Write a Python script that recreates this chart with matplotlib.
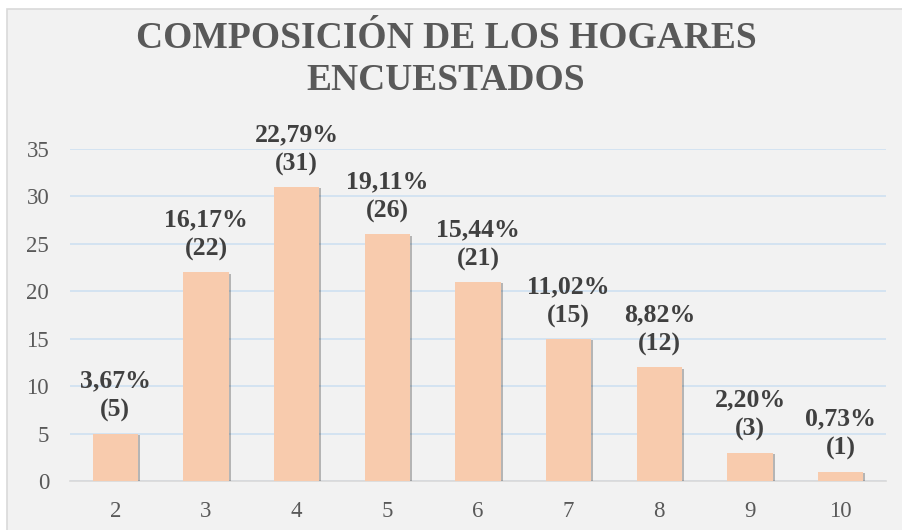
import matplotlib.pyplot as plt
import matplotlib.patheffects as pe
from matplotlib.patches import Rectangle
import numpy as np

# household size vs number of households
categories = ['2', '3', '4', '5', '6', '7', '8', '9', '10']
counts = [5, 22, 31, 26, 21, 15, 12, 3, 1]
percents = ['3,67%', '16,17%', '22,79%', '19,11%', '15,44%', '11,02%', '8,82%', '2,20%', '0,73%']
yticks = [0, 5, 10, 15, 20, 25, 30, 35]

plt.rcParams['font.family'] = ['Liberation Serif', 'DejaVu Serif']

W, H = 902, 530
fig = plt.figure(figsize=(W / 100, H / 100), dpi=100)
fig.patch.set_facecolor('white')

# chart area frame
frame = Rectangle((7 / W, -0.01), 1.0, (H - 9) / H + 0.01,
                  transform=fig.transFigure, facecolor='#f2f2f2',
                  edgecolor='#d9d9d9', linewidth=1.2, zorder=-10)
fig.add_artist(frame)

ax = fig.add_axes([70 / W, (H - 481) / H, (886 - 70) / W, (481 - 149) / H])
ax.set_facecolor('none')
ax.set_zorder(1)

x = np.arange(len(categories))
bars = ax.bar(x, counts, width=0.5, color='#f8cbad', zorder=3)
for b in bars:
    b.set_path_effects([pe.SimplePatchShadow(offset=(1.5, -1), shadow_rgbFace='#000000', alpha=0.25),
                        pe.Normal()])

for xi, c, p in zip(x, counts, percents):
    ax.annotate(p + '\n(' + str(c) + ')', (xi, c), xytext=(0, 8), textcoords='offset points',
                ha='center', va='bottom', fontsize=18.5, fontweight='bold',
                color='#404040', linespacing=1.35, annotation_clip=False)

ax.set_xlim(-0.5, len(categories) - 0.5)
ax.set_ylim(0, 35)
ax.set_yticks(yticks)
ax.set_xticks(x)
ax.set_xticklabels(categories)
ax.grid(axis='y', color='#cfe0f1', linewidth=1.2, zorder=0)
ax.set_axisbelow(True)
for s in ['top', 'right', 'left']:
    ax.spines[s].set_visible(False)
ax.spines['bottom'].set_color('#d9d9d9')
ax.spines['bottom'].set_linewidth(1.2)
ax.tick_params(axis='both', length=0, labelsize=16.5, labelcolor='#595959')
ax.tick_params(axis='y', pad=15)
ax.tick_params(axis='x', pad=14.5)

fig.text(446 / W, 1 - 38 / H, 'COMPOSICIÓN DE LOS HOGARES', ha='center', va='center',
         fontsize=27, fontweight='bold', color='#595959')
fig.text(446 / W, 1 - 80 / H, 'ENCUESTADOS', ha='center', va='center',
         fontsize=27, fontweight='bold', color='#595959')

fig.savefig('out.png', dpi=100, facecolor=fig.get_facecolor())
